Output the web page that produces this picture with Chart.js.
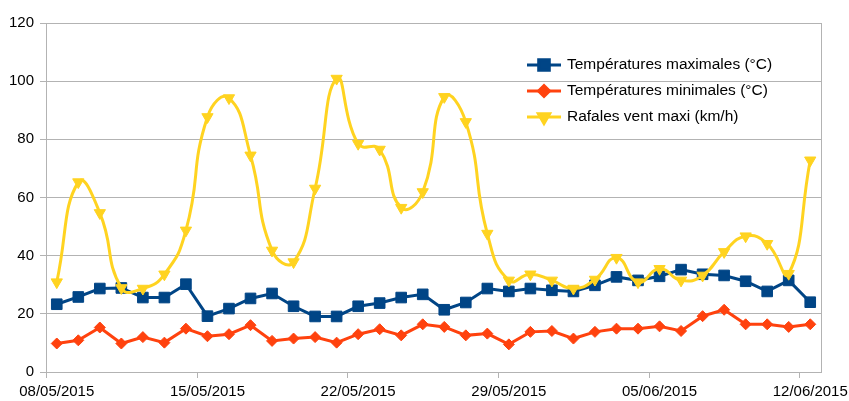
<!DOCTYPE html>
<html><head><meta charset="utf-8">
<script src="https://cdn.jsdelivr.net/npm/chart.js@4.4.1/dist/chart.umd.min.js"></script>
<style>html,body{margin:0;padding:0;background:#fff}</style>
</head><body>
<canvas id="c" width="849" height="401" style="display:block;width:849px;height:401px"></canvas>
<script>
const dates = ['08/05/2015','09/05/2015','10/05/2015','11/05/2015','12/05/2015','13/05/2015','14/05/2015',
  '15/05/2015','16/05/2015','17/05/2015','18/05/2015','19/05/2015','20/05/2015','21/05/2015',
  '22/05/2015','23/05/2015','24/05/2015','25/05/2015','26/05/2015','27/05/2015','28/05/2015',
  '29/05/2015','30/05/2015','31/05/2015','01/06/2015','02/06/2015','03/06/2015','04/06/2015',
  '05/06/2015','06/06/2015','07/06/2015','08/06/2015','09/06/2015','10/06/2015','11/06/2015',
  '12/06/2015'];
const tickLabels = ['08/05/2015','15/05/2015','22/05/2015','29/05/2015','05/06/2015','12/06/2015'];
const seriesNames = ['Températures maximales (°C)','Températures minimales (°C)','Rafales vent maxi (km/h)'];
const maxTemps = [23.3,25.8,28.7,28.9,25.6,25.6,30.2,19.2,21.8,25.3,27.0,22.6,19.1,19.1,22.6,23.7,25.6,26.7,
  21.4,23.9,28.7,27.7,28.7,28.1,27.7,29.8,32.7,31.5,32.9,35.2,33.6,33.2,31.2,27.7,31.5,24.0];
const minTemps = [9.8,10.9,15.3,9.8,12.0,10.1,14.9,12.3,13.0,16.1,10.7,11.5,12.0,10.1,13.0,14.7,12.6,16.4,
  15.5,12.6,13.2,9.5,13.8,14.1,11.5,13.8,14.9,14.9,15.7,14.1,19.2,21.4,16.4,16.4,15.5,16.4];
const gusts = [30.9,65.3,54.7,28.9,28.7,33.6,48.7,87.7,94.2,74.5,41.8,37.8,63.1,100.9,78.5,76.5,56.5,61.9,
  94.6,86.0,47.6,31.5,33.6,31.5,28.7,31.8,39.3,30.9,35.5,31.5,33.2,41.3,46.7,44.1,33.8,72.8];
const yTicks = [0,20,40,60,80,100,120];

const toPts = arr => arr.map((v, i) => ({x: i + 0.5, y: v}));
const FONT = {family: '"Liberation Sans", Arial, sans-serif', size: 15};
const GRID = '#b3b3b3';

const legendPlugin = {
  id: 'customLegend',
  afterDraw(chart) {
    const ctx = chart.ctx;
    chart.data.datasets.forEach((ds, i) => {
      const y = 65 + i * 26;
      ctx.save();
      ctx.strokeStyle = ds.borderColor;
      ctx.lineWidth = 3;
      ctx.beginPath(); ctx.moveTo(527, y); ctx.lineTo(561, y); ctx.stroke();
      ctx.fillStyle = ds.pointBackgroundColor;
      ctx.strokeStyle = ds.pointBorderColor;
      Chart.helpers.drawPoint(ctx, {pointStyle: ds.pointStyle, rotation: ds.pointRotation || 0,
        radius: ds.pointRadius, borderWidth: 1}, 544, y);
      ctx.fillStyle = '#000';
      ctx.font = '15.5px "Liberation Sans", Arial, sans-serif';
      ctx.textBaseline = 'middle';
      ctx.textAlign = 'left';
      ctx.fillText(ds.label, 567, y);
      ctx.restore();
    });
  }
};
const framePlugin = {
  id: 'frameTicks',
  beforeDatasetsDraw(chart) {
    const {ctx, chartArea: a} = chart;
    const xs = chart.scales.x;
    ctx.save();
    ctx.strokeStyle = GRID; ctx.lineWidth = 1;
    ctx.beginPath();
    const rx = Math.round(a.right) + 0.5;
    ctx.moveTo(rx, a.top); ctx.lineTo(rx, a.bottom);
    tickLabels.forEach(l => {
      const px = Math.round(xs.getPixelForValue(dates.indexOf(l))) + 0.5;
      ctx.moveTo(px, a.bottom); ctx.lineTo(px, a.bottom + 6);
    });
    ctx.stroke();
    ctx.restore();
  }
};

const mk = (label, data, color, style, radius, tension, order, rot) => ({
  label, data: toPts(data), borderColor: color, backgroundColor: color,
  pointBackgroundColor: color, pointBorderColor: color, pointStyle: style,
  pointRadius: radius, pointHoverRadius: radius, pointRotation: rot || 0, pointBorderWidth: 1,
  borderWidth: 3, tension, order, cubicInterpolationMode: 'default'
});

new Chart(document.getElementById('c'), {
  type: 'line',
  data: {datasets: [
    mk(seriesNames[0], maxTemps, '#004586', 'rect', 7.5, 0, 3),
    mk(seriesNames[1], minTemps, '#ff420e', 'rectRot', 5.5, 0, 2),
    mk(seriesNames[2], gusts, '#ffd320', 'triangle', 6.5, 0.5, 1, 180)
  ]},
  options: {
    responsive: false, animation: false, devicePixelRatio: 1,
    layout: {padding: {top: 23, right: 28, left: 0, bottom: 0}},
    plugins: {legend: {display: false}, tooltip: {enabled: false}},
    scales: {
      x: {
        type: 'linear', min: 0, max: dates.length,
        afterBuildTicks: s => { s.ticks = tickLabels.map(l => ({value: dates.indexOf(l) + 0.5})); },
        afterFit: s => { s.height = 29; s.paddingLeft = 0; s.paddingRight = 0; },
        ticks: {callback: v => dates[Math.floor(v)], font: FONT, color: '#000', padding: 5, maxRotation: 0, autoSkip: false},
        grid: {display: true, drawOnChartArea: false, drawTicks: true, tickLength: 6, color: 'rgba(0,0,0,0)'},
        border: {display: true, color: GRID}
      },
      y: {
        min: 0, max: 120,
        afterBuildTicks: s => { s.ticks = yTicks.map(v => ({value: v})); },
        afterFit: s => { s.width = 46; },
        ticks: {font: FONT, color: '#000', padding: 6},
        grid: {color: GRID, tickLength: 6},
        border: {display: true, color: GRID}
      }
    }
  },
  plugins: [legendPlugin, framePlugin]
});
</script>
</body></html>
